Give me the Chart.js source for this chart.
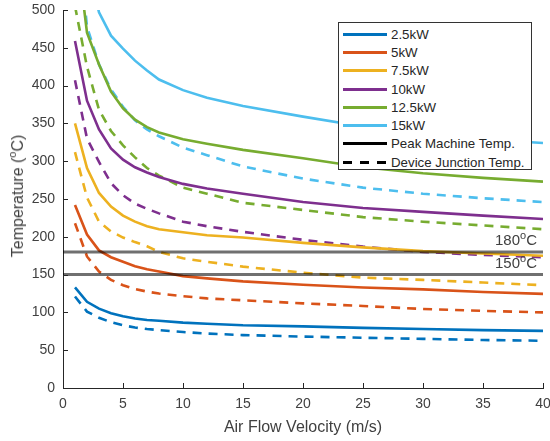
<!DOCTYPE html>
<html>
<head>
<meta charset="utf-8">
<script src="https://cdn.jsdelivr.net/npm/chart.js@4"></script>
<style>
  body { margin: 0; background: #fff; font-family: "Liberation Sans", Arial, Helvetica, sans-serif; }
  #wrap { position: relative; width: 550px; height: 441px; }
  #ytitle {
    position: absolute; left: 18px; top: 196px; white-space: nowrap;
    transform: translate(-50%, -50%) rotate(-90deg);
    font-size: 16px; color: #404040;
  }
  .sup { font-size: 11px; position: relative; top: -7px; }
  #legend {
    position: absolute; left: 338px; top: 22px; width: 194px; height: 148px;
    border: 1px solid #333; background: #fff; box-sizing: border-box;
    padding-top: 2px;
  }
  .row { height: 18.3px; display: flex; align-items: center; font-size: 13.3px; color: #262626; }
  .sample { width: 44px; height: 3px; margin: 0 4px 0 4px; }
</style>
</head>
<body>
<div id="wrap">
  <canvas id="chart" width="550" height="441"></canvas>
  <div id="ytitle">Temperature (<span class="sup">o</span>C)</div>
  <div id="legend"></div>
</div>
<script>
// air flow velocity (m/s)
const velocity = [1, 2, 3, 4, 5, 6, 7, 8, 10, 12, 15, 20, 25, 30, 35, 40];

// peak machine temperature (solid)
const peak25  = [133, 114, 105, 99, 95, 92, 90, 89, 86.5, 85, 83, 81.5, 79.5, 78, 76.5, 75.5];
const peak5   = [242, 203, 182, 173, 167, 161, 157, 154, 148, 145, 141, 136.5, 133, 130.5, 127, 124.5];
const peak75  = [350, 291, 258, 240, 228, 220, 214, 210, 206, 202, 199, 192, 186, 181, 178, 175];
const peak10  = [459, 380, 342, 317, 302, 292, 285, 279, 270, 264, 257, 246, 238, 233, 228, 223.5];
const peak125 = [600, 470, 428, 392, 370, 355, 345, 338, 329, 323, 315, 304, 292, 284, 278, 273];
const peak15  = [720, 560, 497, 466, 449, 433, 420, 408, 394, 384, 373, 359, 346, 336, 329, 324];

// device junction temperature (dashed)
const junc25  = [121, 101, 93, 87, 83, 80, 78, 76.5, 74, 72, 70, 68, 66.5, 65, 63.5, 62.5];
const junc5   = [218, 174, 154, 143, 136, 131, 127.5, 125, 121.5, 118.5, 116, 112, 108.5, 104.5, 102, 100];
const junc75  = [312, 252, 220, 207, 199, 193, 187.5, 180, 171.5, 167, 160.5, 152.5, 146, 143, 139.5, 136];
const junc10  = [407, 330, 299, 271, 255, 244, 237, 231, 220, 214, 206.5, 196, 187, 180, 176, 173];
const junc125 = [505, 425, 368, 340, 321, 305, 291, 281, 265, 257, 245, 235.5, 226, 220, 215, 210];
const junc15  = [640, 478, 428, 395, 372, 354, 342, 333, 318, 308, 293, 277, 265, 257, 251, 246];

const powers = ['2.5kW', '5kW', '7.5kW', '10kW', '12.5kW', '15kW'];
const colors = ['#0072BD', '#D95319', '#EDB120', '#7E2F8E', '#77AC30', '#4DBEEE'];
const peakSeries = [peak25, peak5, peak75, peak10, peak125, peak15];
const juncSeries = [junc25, junc5, junc75, junc10, junc125, junc15];

// limit lines
const limitValues = [180, 150];
const limitLabels = ['180', '150'];
const xRange = [0, 40];

const TEXT = '#404040';
const FONT = '"Liberation Sans", Arial, Helvetica, sans-serif';
const DASH = [9, 7];

const toPts = arr => velocity.map((v, i) => ({ x: v, y: arr[i] }));

const datasets = [];
limitValues.forEach(v => {
  datasets.push({
    data: xRange.map(x => ({ x, y: v })),
    borderColor: 'rgba(0,0,0,0.56)', borderWidth: 3, pointRadius: 0, order: 0
  });
});
peakSeries.forEach((s, i) => {
  datasets.push({ data: toPts(s), borderColor: colors[i], borderWidth: 2.6, pointRadius: 0, order: 1 });
});
juncSeries.forEach((s, i) => {
  datasets.push({ data: toPts(s), borderColor: colors[i], borderWidth: 2.6, borderDash: DASH, pointRadius: 0, order: 1 });
});

// inward tick marks + limit labels
const extras = {
  id: 'extras',
  afterDraw(chart) {
    const { ctx, chartArea: a, scales: { x, y } } = chart;
    ctx.save();
    ctx.strokeStyle = '#262626';
    ctx.lineWidth = 1;
    x.ticks.forEach(t => {
      const px = Math.round(x.getPixelForValue(t.value)) + 0.5;
      ctx.beginPath(); ctx.moveTo(px, a.bottom); ctx.lineTo(px, a.bottom - 5); ctx.stroke();
    });
    y.ticks.forEach(t => {
      const py = Math.round(y.getPixelForValue(t.value)) + 0.5;
      ctx.beginPath(); ctx.moveTo(a.left, py); ctx.lineTo(a.left + 5, py); ctx.stroke();
    });
    ctx.fillStyle = TEXT;
    ctx.textBaseline = 'alphabetic';
    limitValues.forEach((v, i) => {
      const base = y.getPixelForValue(v) - 7;
      const big = '15px ' + FONT, small = '11px ' + FONT;
      ctx.font = big;
      const wNum = ctx.measureText(limitLabels[i]).width;
      const wC = ctx.measureText('C').width;
      ctx.font = small;
      const wO = ctx.measureText('o').width;
      let xs = a.right - 6 - (wNum + wO + wC);
      ctx.font = big;
      ctx.fillText(limitLabels[i], xs, base);
      xs += wNum;
      ctx.font = small;
      ctx.fillText('o', xs, base - 6);
      xs += wO;
      ctx.font = big;
      ctx.fillText('C', xs, base);
    });
    ctx.restore();
  }
};

new Chart(document.getElementById('chart'), {
  type: 'line',
  data: { datasets },
  options: {
    responsive: false,
    animation: false,
    devicePixelRatio: 1,
    layout: { padding: { top: 10, right: 7, left: 0, bottom: 0 } },
    plugins: { legend: { display: false }, tooltip: { enabled: false } },
    scales: {
      x: {
        type: 'linear', min: 0, max: 40,
        grid: { display: false, drawTicks: false },
        border: { display: true, color: '#262626', width: 1 },
        ticks: { stepSize: 5, padding: 8, color: TEXT, font: { family: FONT, size: 14 } },
        title: { display: true, text: 'Air Flow Velocity (m/s)', color: TEXT, font: { family: FONT, size: 16 }, padding: { top: 0, bottom: 4 } },
        afterFit: s => { s.height = 53; s.paddingLeft = 0; s.paddingRight = 0; }
      },
      y: {
        type: 'linear', min: 0, max: 500,
        grid: { display: false, drawTicks: false },
        border: { display: true, color: '#262626', width: 1 },
        ticks: { stepSize: 50, padding: 8, color: TEXT, font: { family: FONT, size: 14 } },
        afterFit: s => { s.width = 63; s.paddingTop = 0; s.paddingBottom = 0; }
      }
    }
  },
  plugins: [extras]
});

// legend
const legend = document.getElementById('legend');
powers.forEach((p, i) => {
  legend.innerHTML += `<div class="row"><div class="sample" style="background:${colors[i]}"></div>${p}</div>`;
});
legend.innerHTML += `<div class="row"><div class="sample" style="background:#000"></div>Peak Machine Temp.</div>`;
legend.innerHTML += `<div class="row"><div class="sample" style="background:repeating-linear-gradient(to right,#000 0 9px,transparent 9px 17px)"></div>Device Junction Temp.</div>`;
</script>
</body>
</html>
